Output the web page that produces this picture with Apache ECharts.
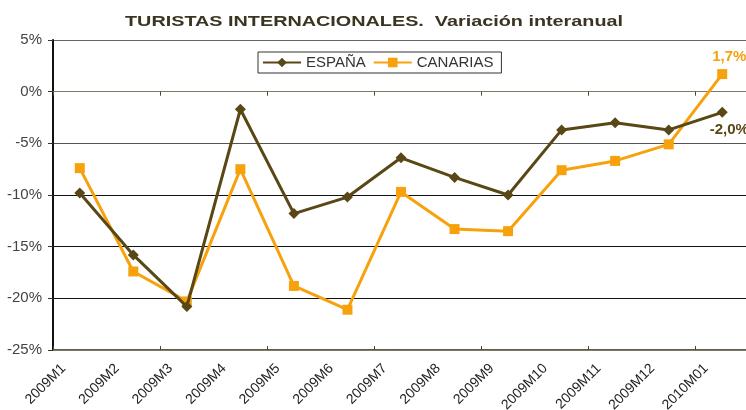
<!DOCTYPE html>
<html>
<head>
<meta charset="utf-8">
<script src="https://cdn.jsdelivr.net/npm/echarts@6/dist/echarts.min.js"></script>
<style>html,body{margin:0;padding:0;background:#fff;}#c{width:746px;height:410px;}</style>
</head>
<body>
<div id="c"></div>
<script>
const categories = ['2009M1','2009M2','2009M3','2009M4','2009M5','2009M6','2009M7','2009M8','2009M9','2009M10','2009M11','2009M12','2010M01'];
const espana = [-9.8, -15.8, -20.8, -1.7, -11.8, -10.2, -6.4, -8.3, -10.0, -3.7, -3.0, -3.7, -2.0];
const canarias = [-7.4, -17.4, -20.3, -7.5, -18.8, -21.1, -9.7, -13.3, -13.5, -7.6, -6.7, -5.1, 1.7];
const yTicks = {min: -25, max: 5, interval: 5};
const titleText = 'TURISTAS INTERNACIONALES.  Variación interanual';

const fmt = v => (v.toFixed(1).replace('.', ',')) + '%';
function withLastLabel(arr, pos, color) {
  return arr.map((v, i) => i === arr.length - 1 ? {
    value: v,
    label: {show: true, position: pos, formatter: p => fmt(p.value), color: color,
      fontFamily: 'Arial', fontWeight: 'bold', fontSize: 15, distance: 5, offset: [7, 0]}
  } : v);
}

const chart = echarts.init(document.getElementById('c'), null, {renderer: 'canvas'});
const grid = {left: 53, right: -3, top: 40, bottom: 60, containLabel: false, outerBoundsMode: 'none'};
const baseX = {type: 'category', data: categories, boundaryGap: true};
chart.setOption({
  animation: false,
  backgroundColor: '#fff',
  graphic: [{
    type: 'text', x: 374, y: 22, scaleX: 1.32, scaleY: 1,
    style: {text: titleText, x: 0, y: 0, align: 'center', verticalAlign: 'middle',
      font: 'bold 15px Arial', fill: '#3b3422'}
  }],
  legend: {
    left: 258, top: 52,
    orient: 'horizontal',
    borderColor: '#333', borderWidth: 1,
    padding: [3, 8, 3, 4],
    itemWidth: 38, itemHeight: 12, itemGap: 7,
    textStyle: {fontFamily: 'Arial', fontSize: 15, color: '#333'},
    data: ['ESPAÑA', 'CANARIAS']
  },
  grid: grid,
  xAxis: [
    Object.assign({}, baseX, {
      position: 'bottom',
      axisLine: {onZero: false, lineStyle: {color: '#2e2810', width: 1.5}},
      axisTick: {show: false},
      axisLabel: {rotate: 45, interval: 0, margin: 0, padding: [0, 23, 0, 0],
        fontFamily: 'Arial', fontSize: 14, color: '#222'},
      splitLine: {show: false}
    }),
    Object.assign({}, baseX, {
      position: 'bottom',
      axisLine: {onZero: true, lineStyle: {color: '#7d7766', width: 1}},
      axisTick: {show: true, inside: false, length: 4, lineStyle: {color: '#4a4535'}},
      axisLabel: {show: false}
    }),
    Object.assign({}, baseX, {
      position: 'bottom',
      axisLine: {onZero: true, lineStyle: {color: '#7d7766', width: 1}},
      axisTick: {show: true, inside: true, length: 4, lineStyle: {color: '#4a4535'}},
      axisLabel: {show: false}
    })
  ],
  yAxis: {
    type: 'value',
    min: yTicks.min, max: yTicks.max, interval: yTicks.interval,
    axisLine: {show: true, lineStyle: {color: '#111', width: 2}},
    axisTick: {show: true, length: 5, lineStyle: {color: '#333'}},
    axisLabel: {formatter: '{value}%', fontFamily: 'Arial', fontSize: 15, color: '#444', margin: 11},
    splitLine: {show: true, lineStyle: {color: ['#2e2810', '#111', '#111', '#111', '#555', '#888', '#666'], width: 1}}
  },
  series: [
    {
      name: 'ESPAÑA', type: 'line', xAxisIndex: 0,
      data: withLastLabel(espana, 'bottom', '#5a4716'),
      symbol: 'diamond', symbolSize: 11,
      lineStyle: {color: '#5a4716', width: 3},
      itemStyle: {color: '#5a4716'},
      z: 3
    },
    {
      name: 'CANARIAS', type: 'line', xAxisIndex: 0,
      data: withLastLabel(canarias, 'top', '#f7a20c'),
      symbol: 'rect', symbolSize: 10,
      lineStyle: {color: '#f7a20c', width: 3},
      itemStyle: {color: '#f7a20c'},
      z: 2
    }
  ]
});
</script>
</body>
</html>
